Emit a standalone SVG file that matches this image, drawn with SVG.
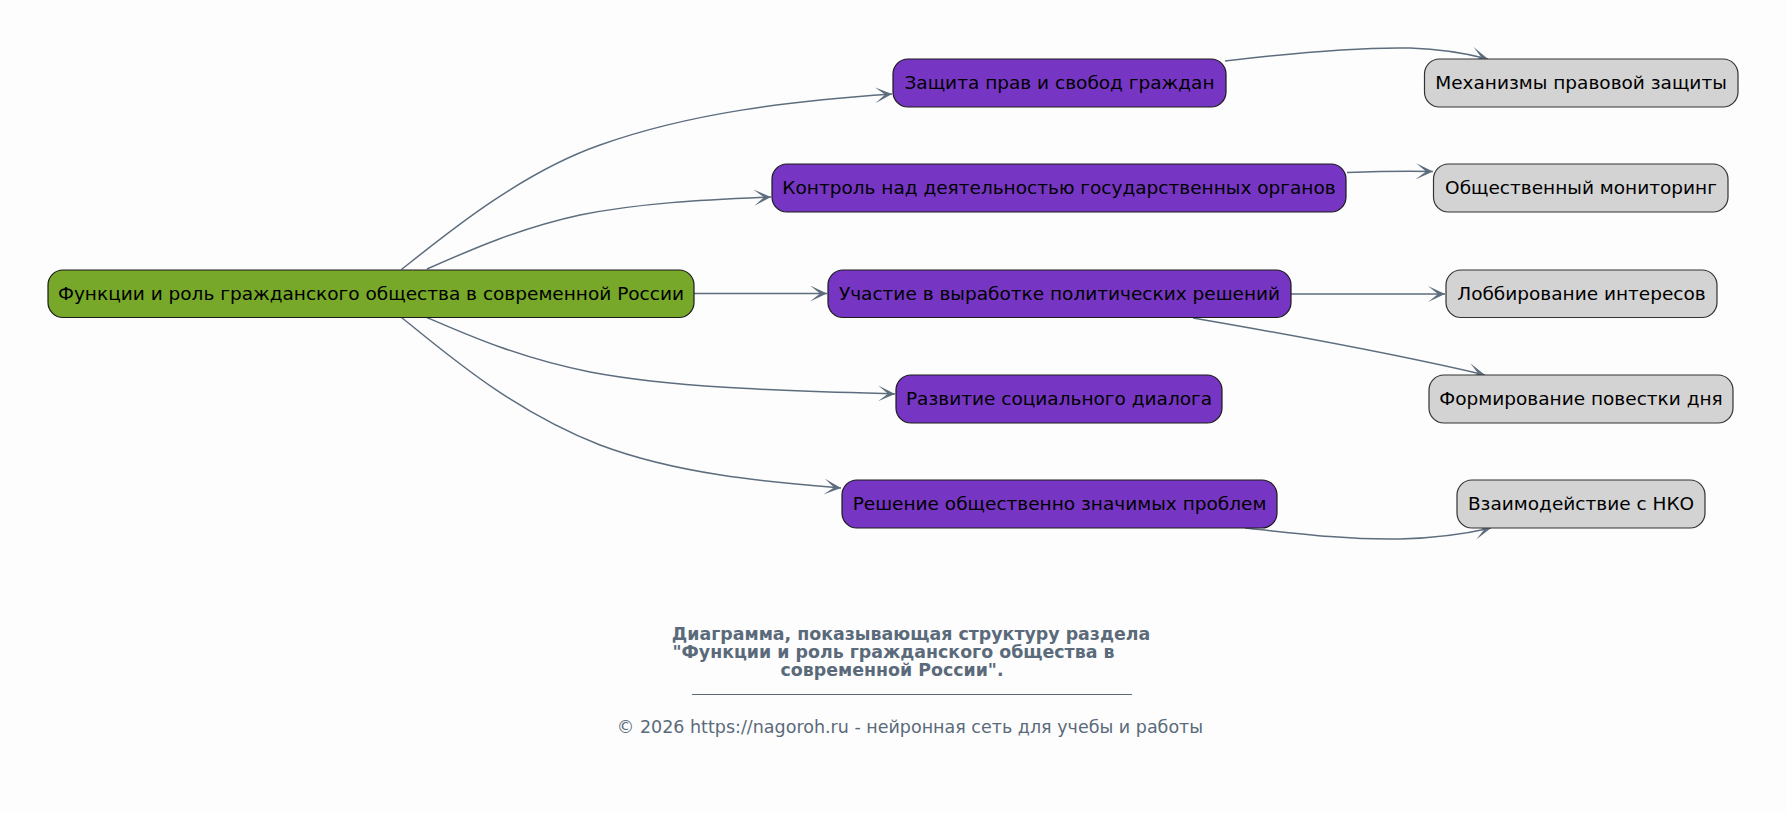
<svg xmlns="http://www.w3.org/2000/svg" width="1787" height="813" viewBox="0 0 1787 813">
<defs>
<marker id="vee" markerUnits="userSpaceOnUse" markerWidth="18" markerHeight="16" refX="17" refY="8" orient="auto">
<path d="M0,0 L17,8 L0,16 L10,8 z" fill="#5d6d7e"/>
</marker>
<style>
.n text{font-family:"DejaVu Sans","Noto Sans",sans-serif;font-size:18.5px;fill:#000;text-anchor:middle}
.root rect{fill:#77a829;stroke:#1a1a1a;stroke-width:1.2}
.mid rect{fill:#7636c3;stroke:#1a1a1a;stroke-width:1.2}
.leaf rect{fill:#d3d3d3;stroke:#333;stroke-width:1.2}
#edges path{fill:none;stroke:#5d6d7e;stroke-width:1.5;marker-end:url(#vee)}
.title{font-family:"DejaVu Sans",sans-serif;font-weight:bold;font-size:17.4px;fill:#5a6a7a;text-anchor:middle}
.foot{font-family:"DejaVu Sans",sans-serif;font-size:17.5px;fill:#5a6a7a;text-anchor:middle}
</style>
</defs>
<rect width="1787" height="813" fill="#fdfdfd"/>
<g id="edges">
<path d="M401.5,269.5 C445,235 520,173 600,145 C690,113 790,101 892,94"/>
<path d="M427,269 C470,250 520,228 580,215 C640,203 700,200 771,197"/>
<path d="M694,293.5 L827,293.5"/>
<path d="M427,317.5 C470,336 520,358 590,372 C680,389 800,391 895,394"/>
<path d="M401.5,317.5 C445,352 510,410 600,445 C680,475 770,482 841,488"/>
<path d="M1225,61 C1300,52 1360,47 1410,48 C1440,49 1465,53 1488,59"/>
<path d="M1347,172.5 C1375,171.5 1405,171 1433,171.5"/>
<path d="M1291,294 L1445,294"/>
<path d="M1193,318 C1280,333 1400,355 1485,375"/>
<path d="M1245,528 C1300,534 1350,540 1400,539 C1440,538 1465,534 1491,528"/>
</g>
<g id="n_root" class="n root"><rect x="48" y="270" width="646" height="47.5" rx="15"/><text x="371" y="300">Функции и роль гражданского общества в современной России</text></g>
<g id="n_zashchita" class="n mid"><rect x="893" y="59" width="333" height="48" rx="15"/><text x="1059.5" y="89">Защита прав и свобод граждан</text></g>
<g id="n_kontrol" class="n mid"><rect x="772" y="164" width="574" height="48" rx="15"/><text x="1059" y="194">Контроль над деятельностью государственных органов</text></g>
<g id="n_uchastie" class="n mid"><rect x="828" y="270" width="463" height="47.5" rx="15"/><text x="1059.5" y="300">Участие в выработке политических решений</text></g>
<g id="n_razvitie" class="n mid"><rect x="896" y="375" width="326" height="48" rx="15"/><text x="1059" y="405">Развитие социального диалога</text></g>
<g id="n_reshenie" class="n mid"><rect x="842" y="480" width="435" height="48" rx="15"/><text x="1059.5" y="510">Решение общественно значимых проблем</text></g>
<g id="n_mekhanizmy" class="n leaf"><rect x="1424.5" y="59" width="313.5" height="48" rx="15"/><text x="1581" y="89">Механизмы правовой защиты</text></g>
<g id="n_monitoring" class="n leaf"><rect x="1433.5" y="164" width="294.5" height="48" rx="15"/><text x="1581" y="194">Общественный мониторинг</text></g>
<g id="n_lobbi" class="n leaf"><rect x="1446" y="270" width="271" height="47.5" rx="15"/><text x="1581.5" y="300">Лоббирование интересов</text></g>
<g id="n_povestka" class="n leaf"><rect x="1429" y="375" width="304" height="48" rx="15"/><text x="1581" y="405">Формирование повестки дня</text></g>
<g id="n_nko" class="n leaf"><rect x="1457" y="480" width="248" height="48" rx="15"/><text x="1581" y="510">Взаимодействие с НКО</text></g>
<g id="caption">
<text class="title" x="911" y="640">Диаграмма, показывающая структуру раздела</text>
<text class="title" x="893.5" y="658">"Функции и роль гражданского общества в</text>
<text class="title" x="892" y="676">современной России".</text>
<line x1="692" y1="694.5" x2="1132" y2="694.5" stroke="#5a6a7a" stroke-width="1"/>
<text class="foot" x="910" y="733">© 2026 https://nagoroh.ru - нейронная сеть для учебы и работы</text>
</g>
</svg>
